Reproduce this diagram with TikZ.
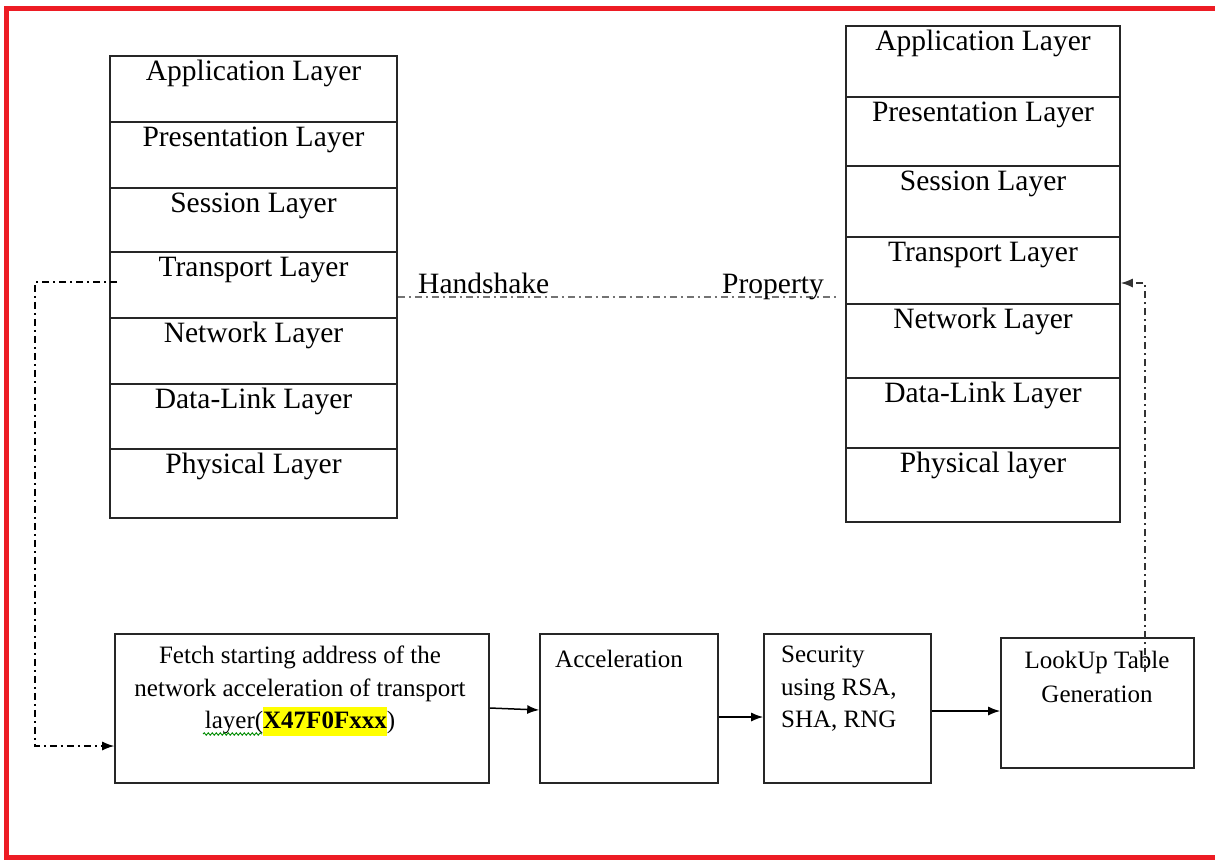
\documentclass[tikz,border=0pt]{standalone}
\usepackage{fontspec}
\setmainfont{Liberation Serif}
\usetikzlibrary{arrows.meta,calc,decorations.pathmorphing}
\definecolor{frame}{HTML}{ED1C24}
\definecolor{hl}{HTML}{FFFF00}
\begin{document}
\begin{tikzpicture}[x=1pt,y=-1pt,
  cell/.style={draw=black!85,line width=1.6pt,inner sep=0pt,minimum width=#1},
  lcell/.style={cell=287pt},
  rcell/.style={cell=274pt},
  stxt/.style={anchor=base,yshift=-25pt,inner sep=0pt,font=\fontsize{29.5}{33}\selectfont},
  box/.style={draw=black!85,line width=1.6pt,inner sep=0pt},
  btxt/.style={inner sep=0pt,font=\fontsize{25}{32.5}\selectfont},
  tip/.style={-{Latex[length=12pt,width=9pt]}},
  arr/.style={line width=1.5pt,tip},
  dd/.style={line width=1.3pt,dash pattern=on 7pt off 4pt on 2pt off 4pt},
]
\useasboundingbox (0,0) rectangle (1215,860);
\fill[white] (0,0) rectangle (1215,860);
% red frame
\draw[frame,line width=5pt] (1215,8) -- (6,8) -- (6,857) -- (1215,857);

% left stack
\node[lcell,minimum height=66pt,label={[stxt]north:Application Layer}] (L1) at (253.5,89) {};
\node[lcell,minimum height=66pt,label={[stxt]north:Presentation Layer}] (L2) at (253.5,155) {};
\node[lcell,minimum height=64pt,label={[stxt]north:Session Layer}] (L3) at (253.5,220) {};
\node[lcell,minimum height=66pt,label={[stxt]north:Transport Layer}] (L4) at (253.5,285) {};
\node[lcell,minimum height=66pt,label={[stxt]north:Network Layer}] (L5) at (253.5,351) {};
\node[lcell,minimum height=65pt,label={[stxt]north:Data-Link Layer}] (L6) at (253.5,416.5) {};
\node[lcell,minimum height=69pt,label={[stxt]north:Physical Layer}] (L7) at (253.5,483.5) {};

% right stack
\node[rcell,minimum height=71pt,label={[stxt]north:Application Layer}] (R1) at (983,61.5) {};
\node[rcell,minimum height=69pt,label={[stxt]north:Presentation Layer}] (R2) at (983,131.5) {};
\node[rcell,minimum height=71pt,label={[stxt]north:Session Layer}] (R3) at (983,201.5) {};
\node[rcell,minimum height=67pt,label={[stxt]north:Transport Layer}] (R4) at (983,270.5) {};
\node[rcell,minimum height=74pt,label={[stxt]north:Network Layer}] (R5) at (983,341) {};
\node[rcell,minimum height=70pt,label={[stxt]north:Data-Link Layer}] (R6) at (983,413) {};
\node[rcell,minimum height=74pt,label={[stxt]north:Physical layer}] (R7) at (983,485) {};

% handshake line
\coordinate (hp) at (838,297);
\draw[dd,black!55,line width=1.8pt] (L4.east |- 0,297) -- (hp);
\node[anchor=base west,inner sep=0pt,font=\fontsize{29.5}{33}\selectfont] (hs) at (418,293) {Handshake};
\node[anchor=base west,inner sep=0pt,font=\fontsize{29.5}{33}\selectfont] (pr) at (722,293) {Property};

% bottom boxes
\node[box,minimum width=374pt,minimum height=149pt] (F) at (302,708.5) {};
\node[box,minimum width=178pt,minimum height=149pt] (A) at (629,708.5) {};
\node[box,minimum width=167pt,minimum height=149pt] (S) at (847.5,708.5) {};
\node[box,minimum width=193pt,minimum height=130pt] (T) at (1097.5,703) {};

\node[btxt,align=center,anchor=north] (Ft) at (300,646) {Fetch starting address of the\\network acceleration of transport\\layer({\setlength{\fboxsep}{0pt}\colorbox{hl}{\rule[-7pt]{0pt}{29pt}\bfseries X47F0Fxxx}})};
\draw[green!55!black,line width=0.9pt,decorate,decoration={snake,amplitude=1.2pt,segment length=4pt}] (203,734) -- (262,734);
\node[btxt,anchor=north west] (At) at (555,650) {Acceleration};
\node[btxt,align=left,anchor=north west] (St) at (781,646) {Security\\using RSA,\\SHA, RNG};
\node[btxt,align=center,anchor=north,font=\fontsize{25}{34}\selectfont] (Tt) at (1097,651) {LookUp Table\\Generation};

% arrows
\draw[arr] (F.east |- 0,708) -- (A.west |- 0,710);
\draw[arr] (A.east |- 0,717) -- (S.west |- 0,717);
\draw[arr] (S.east |- 0,711) -- (T.west |- 0,711);

% loops
\draw[dd,tip] ([xshift=8pt]L4.west |- 0,282) -- (35,282) |- (F.west |- 0,746);
\coordinate (rs) at (1145,672);
\draw[dd,black!80,tip] (rs) |- (R4.east |- 0,283);
\end{tikzpicture}
\end{document}
